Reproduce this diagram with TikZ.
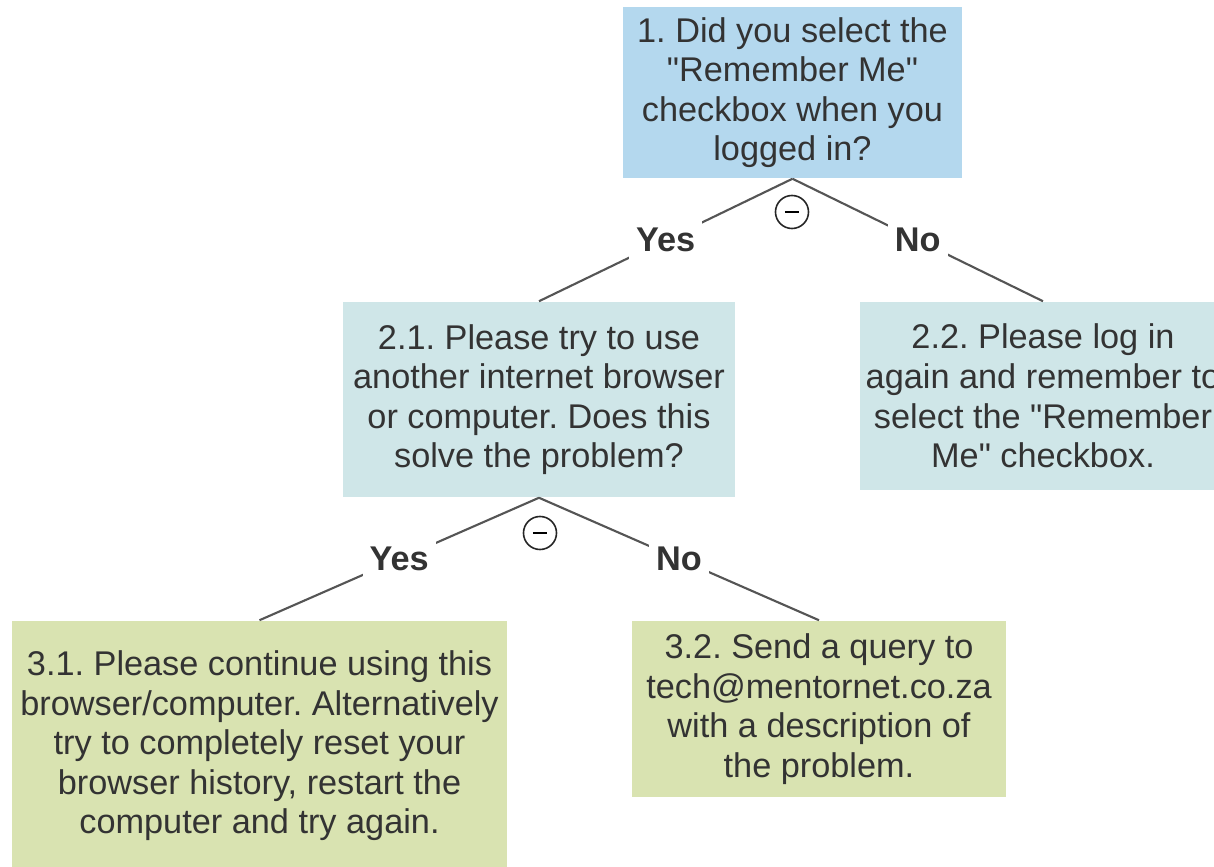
\documentclass[tikz,border=0pt]{standalone}
\usepackage{fontspec}
\setmainfont{Liberation Sans}
\usepackage{tikz}
\usetikzlibrary{positioning}
\definecolor{boxblue}{RGB}{180,216,238}
\definecolor{boxteal}{RGB}{207,230,232}
\definecolor{boxgreen}{RGB}{217,227,177}
\definecolor{inkgray}{RGB}{51,51,51}
\definecolor{linegray}{RGB}{85,85,85}
\frenchspacing

\begin{document}
\begin{tikzpicture}[x=0.01cm,y=-0.01cm,
        box/.style={align=center,text=inkgray,inner sep=0pt,
            font=\fontsize{9.75}{11.24}\selectfont},
        ans/.style={fill=white,text=inkgray,inner sep=2pt,
            font=\fontsize{9.75}{11.24}\selectfont\bfseries},
        link/.style={draw=linegray,line width=0.6pt},
        sign/.style={circle,draw=black!85,line width=0.45pt,minimum size=0.33cm,inner sep=0pt}]
                \clip (0,0) rectangle (1214,867);
                \fill[white] (0,0) rectangle (1214,867);
                % question boxes
                \node[box,fill=boxblue,minimum width=3.39cm,minimum height=1.71cm] (q1) at (792.5,92.5)
                    {1. Did you select the\\\textquotedbl Remember Me\textquotedbl\\checkbox when you\\logged in?};
                \node[box,fill=boxteal,minimum width=3.92cm,minimum height=1.95cm] (q21) at (539,399.5)
                    {2.1. Please try to use\\another internet browser\\or computer. Does this\\solve the problem?};
                \node[box,fill=boxteal,minimum width=3.66cm,minimum height=1.88cm] (q22) at (1043,396)
                    {2.2. Please log in\\again and remember to\\select the \textquotedbl Remember\\Me\textquotedbl{} checkbox.};
                \node[box,fill=boxgreen,minimum width=4.95cm,minimum height=2.5cm] (q31) at (259.5,746)
                    {3.1. Please continue using this\\browser/computer. Alternatively\\try to completely reset your\\browser history, restart the\\computer and try again.};
                \node[box,fill=boxgreen,minimum width=3.74cm,minimum height=1.76cm] (q32) at (819,709)
                    {3.2. Send a query to\\tech@mentornet.co.za\\with a description of\\the problem.};
                % answers
                \draw[link] (q1.south) -- node[ans] (y1) {Yes} (q21.north);
                \draw[link] (q1.south) -- node[ans] (n1) {No} (q22.north);
                \draw[link] (q21.south) -- node[ans] (y2) {Yes} (q31.north);
                \draw[link] (q21.south) -- node[ans] (n2) {No} (q32.north);
                % minus signs
                \node[sign] (s1) at (792,212) {};
                \draw[line width=0.6pt] ([xshift=-0.07cm]s1.center) -- ([xshift=0.07cm]s1.center);
                \node[sign] (s2) at (540,533) {};
                \draw[line width=0.6pt] ([xshift=-0.07cm]s2.center) -- ([xshift=0.07cm]s2.center);
            \end{tikzpicture}
\end{document}
